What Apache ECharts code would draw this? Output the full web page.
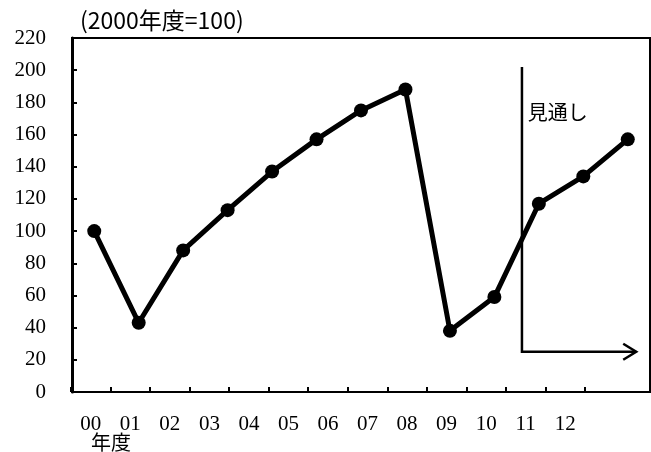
<!DOCTYPE html>
<html>
<head>
<meta charset="utf-8">
<script src="https://cdn.jsdelivr.net/npm/echarts@6/dist/echarts.min.js"></script>
<style>
html,body{margin:0;padding:0;background:#fff;}
#c{width:651px;height:452px;}
</style>
</head>
<body>
<div id="c"></div>
<script>
// Data
var categories = ['00','01','02','03','04','05','06','07','08','09','10','11','12'];
var values = [100, 43, 88, 113, 137, 157, 175, 188, 38, 59, 117, 134, 157];
var yTicks = {min: 0, max: 220, interval: 20};
var unitLabel = '(2000年度=100)';
var xName = '年度';
var forecastLabel = '見通し';
// forecast marker: [x position in category units, y value]
var forecastTop = [9.62, 202];
var forecastCorner = [9.62, 25];
var forecastArrowEnd = [12.19, 25];
var forecastTextPos = [9.75, 174];

var serif = '"Liberation Serif", "DejaVu Serif", serif';
var cjk = '"Noto Sans CJK JP", "Noto Sans", sans-serif';

var chart = echarts.init(document.getElementById('c'), null, {renderer: 'canvas'});

var option = {
  backgroundColor: '#fff',
  animation: false,
  grid: [
    {left: 72, right: 1, top: 38, bottom: 60, show: true, borderColor: '#000', borderWidth: 2, backgroundColor: 'transparent'},
    {left: 71, right: 66, top: 38, bottom: 60, show: false}
  ],
  xAxis: [
    {
      type: 'category', gridIndex: 0, data: categories, boundaryGap: true,
      axisLine: {show: true, onZero: false, lineStyle: {color: '#000', width: 2}},
      axisTick: {show: false}, axisLabel: {show: false}, splitLine: {show: false}
    },
    {
      type: 'category', gridIndex: 1, data: categories, boundaryGap: true,
      axisLine: {show: false, onZero: false},
      axisTick: {show: true, inside: true, length: 5, lineStyle: {color: '#000', width: 2}},
      axisLabel: {color: '#000', fontFamily: serif, fontSize: 21, margin: 22},
      splitLine: {show: false}
    },
    {
      type: 'value', gridIndex: 0, min: -0.5, max: 12.5, show: false,
      axisLine: {show: false, onZero: false}
    }
  ],
  yAxis: [
    {
      type: 'value', gridIndex: 0, min: yTicks.min, max: yTicks.max, interval: yTicks.interval,
      axisLine: {show: true, onZero: false, lineStyle: {color: '#000', width: 3}},
      axisTick: {show: true, inside: true, length: 5, lineStyle: {color: '#000', width: 2}},
      axisLabel: {color: '#000', fontFamily: serif, fontSize: 21, margin: 26},
      splitLine: {show: false}
    },
    {
      type: 'value', gridIndex: 1, min: yTicks.min, max: yTicks.max, show: false,
      axisLine: {show: false, onZero: false}
    }
  ],
  series: [{
    type: 'line', xAxisIndex: 0, yAxisIndex: 0, data: values,
    symbol: 'circle', symbolSize: 14,
    lineStyle: {color: '#000', width: 5},
    itemStyle: {color: '#000'}
  }]
};
chart.setOption(option);

function px(p) { return chart.convertToPixel({xAxisIndex: 2, yAxisIndex: 0}, p); }
var t = px(forecastTop), c = px(forecastCorner), e = px(forecastArrowEnd), tp = px(forecastTextPos);

chart.setOption({
  graphic: [
    {type: 'text', left: 80, top: 9, style: {text: unitLabel, font: '23px ' + cjk, fill: '#000'}},
    {type: 'text', left: 91, top: 432, style: {text: xName, font: '20px ' + cjk, fill: '#000'}},
    {type: 'polyline', shape: {points: [t, c, e]}, style: {stroke: '#000', lineWidth: 2.5, fill: null}},
    {type: 'polyline', shape: {points: [[e[0] - 13, e[1] - 8], e, [e[0] - 13, e[1] + 8]]}, style: {stroke: '#000', lineWidth: 2.5, fill: null}},
    {type: 'text', x: tp[0], y: tp[1], style: {text: forecastLabel, font: '20px ' + cjk, fill: '#000', verticalAlign: 'middle'}}
  ]
});
</script>
</body>
</html>
